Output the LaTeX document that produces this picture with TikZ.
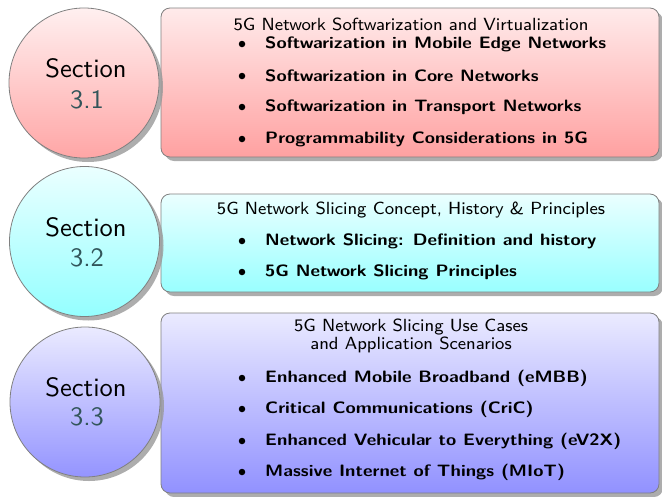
\documentclass[tikz,border=0pt]{standalone}
\usepackage{graphicx}
\usetikzlibrary{shadows}
\definecolor{numcol}{RGB}{50,85,90}
\definecolor{bordcol}{RGB}{128,128,128}
\newcommand{\ttltxt}[1]{\scalebox{2.2}{\fontsize{8}{9.5}\selectfont\sffamily #1}}
\newcommand{\itmtxt}[1]{\scalebox{2.32}[2.06]{\fontsize{8}{9.5}\selectfont\sffamily\bfseries #1}}
\newcommand{\sectxt}[1]{\scalebox{2.65}{\fontsize{10}{12}\selectfont\sffamily #1}}
\tikzset{
  secbox/.style={draw=bordcol, line width=0.8pt, rounded corners=9pt,
    drop shadow={shadow xshift=4pt, shadow yshift=-4pt, fill=black!40, opacity=0.8}},
  seccirc/.style={circle, draw=bordcol, line width=0.8pt, minimum size=150pt, inner sep=0pt,
    drop shadow={shadow xshift=4pt, shadow yshift=-4pt, fill=black!40, opacity=0.8}},
  sectx/.style={inner sep=0pt},
  ttl/.style={inner sep=0pt},
  itm/.style={anchor=west, inner sep=0pt},
  bul/.style={circle, fill=black, minimum size=6.5pt, inner sep=0pt},
  redbox/.style={top color=red!8, bottom color=red!37},
  cyanbox/.style={top color=cyan!8, bottom color=cyan!40},
  bluebox/.style={top color=blue!8, bottom color=blue!43},
}
\begin{document}
\begin{tikzpicture}[x=1pt,y=-1pt]
\useasboundingbox (0,0) rectangle (662,496);
% boxes
\node[secbox, redbox, minimum width=498pt, minimum height=149pt] (b1) at (410,82.5) {};
\node[secbox, cyanbox, minimum width=498pt, minimum height=98pt] (b2) at (410,243) {};
\node[secbox, bluebox, minimum width=498pt, minimum height=180pt] (b3) at (410,403) {};
% circles
\node[seccirc, top color=red!6, bottom color=red!35] (c1) at (84,83) {};
\node[seccirc, top color=cyan!8, bottom color=cyan!42] (c2) at (84.5,241.5) {};
\node[seccirc, top color=blue!8, bottom color=blue!42] (c3) at (85,402) {};
\node[sectx] (s1) at (86,68) {\sectxt{Section}};
\node[sectx] (n1) at (87,100) {\sectxt{\textcolor{numcol}{3.1}}};
\node[sectx] (s2) at (86,227) {\sectxt{Section}};
\node[sectx] (n2) at (87,258) {\sectxt{\textcolor{numcol}{3.2}}};
\node[sectx] (s3) at (86,387) {\sectxt{Section}};
\node[sectx] (n3) at (87,417) {\sectxt{\textcolor{numcol}{3.3}}};
% box 1 text
\node[ttl] (t1) at (411,24) {\ttltxt{5G Network Softwarization and Virtualization}};
\foreach \i/\yy/\txt in {1/44/Softwarization in Mobile Edge Networks, 2/76/Softwarization in Core Networks, 3/107/Softwarization in Transport Networks, 4/139/Programmability Considerations in 5G}{
  \node[bul] (ba\i) at (242,\yy) {};
  \node[itm] (ia\i) at (265,\yy) {\itmtxt{\txt}};
}
% box 2 text
\node[ttl] (t2) at (411,210) {\ttltxt{5G Network Slicing Concept, History \& Principles}};
\foreach \i/\yy/\txt in {1/241/Network Slicing: Definition and history, 2/272/5G Network Slicing Principles}{
  \node[bul] (bb\i) at (242,\yy) {};
  \node[itm] (ib\i) at (265,\yy) {\itmtxt{\txt}};
}
% box 3 text
\node[ttl] (t3a) at (411,327) {\ttltxt{5G Network Slicing Use Cases}};
\node[ttl] (t3b) at (411,345) {\ttltxt{and Application Scenarios}};
\foreach \i/\yy/\txt in {1/378/Enhanced Mobile Broadband (eMBB), 2/409/Critical Communications (CriC), 3/441/Enhanced Vehicular to Everything (eV2X), 4/472/Massive Internet of Things (MIoT)}{
  \node[bul] (bc\i) at (242,\yy) {};
  \node[itm] (ic\i) at (265,\yy) {\itmtxt{\txt}};
}
\end{tikzpicture}
\end{document}
